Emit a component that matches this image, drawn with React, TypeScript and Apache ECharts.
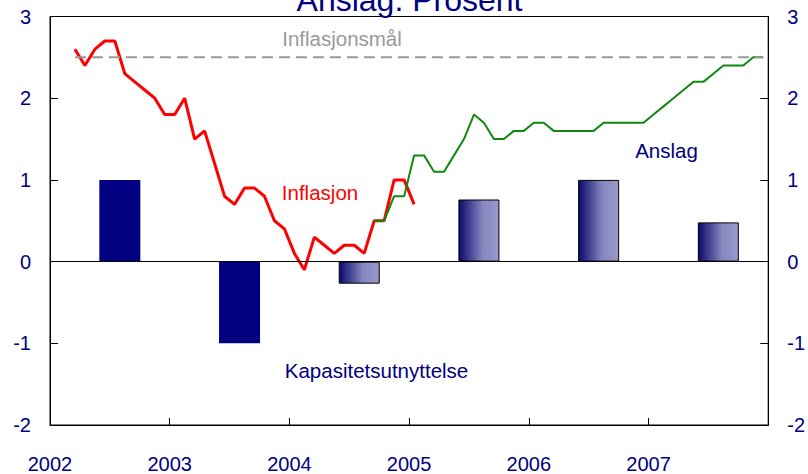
import React, { useEffect, useRef } from "react";
import * as echarts from "echarts";

// Tick labels
const yearTicks = [2002, 2003, 2004, 2005, 2006, 2007];

// Inflation (monthly, March 2002 – January 2005)
const inflationStart = { year: 2002, month: 2 }; // 0-based month (March)
const inflation = [
  2.6, 2.4, 2.6, 2.7, 2.7, 2.3, 2.2, 2.1, 2.0, 1.8,
  1.8, 2.0, 1.5, 1.6, 1.2, 0.8, 0.7, 0.9, 0.9, 0.8, 0.5, 0.4,
  0.1, -0.1, 0.3, 0.2, 0.1, 0.2, 0.2, 0.1, 0.5, 0.5, 1.0, 1.0,
  0.7,
];

// Forecast (monthly, September 2004 – December 2007)
const forecastStart = { year: 2004, month: 8 };
const forecast = [
  0.5, 0.5, 0.8, 0.8,
  1.3, 1.3, 1.1, 1.1, 1.3, 1.5, 1.8, 1.7, 1.5, 1.5, 1.6, 1.6,
  1.7, 1.7, 1.6, 1.6, 1.6, 1.6, 1.6, 1.7, 1.7, 1.7, 1.7, 1.7,
  1.8, 1.9, 2.0, 2.1, 2.2, 2.2, 2.3, 2.4, 2.4, 2.4, 2.5, 2.5,
];

// Capacity utilisation (annual)
const capacityYears = [2002, 2003, 2004, 2005, 2006, 2007];
const capacity = [1.0, -1.0, -0.27, 0.76, 1.0, 0.48];
const capacityForecastFrom = 2004;

// Inflation target
const targetValue = 2.5;
const targetFrom = 2002 + 2.5 / 12;
const targetTo = 2007 + 11.5 / 12;

const NAVY = "#000080";
const FONT = "'Liberation Sans', Arial, Helvetica, sans-serif";

function monthly(start: { year: number; month: number }, vals: number[]) {
  return vals.map((v, i) => [start.year + (start.month + i + 0.5) / 12, v]);
}

export default function App() {
  const ref = useRef<HTMLDivElement>(null);
  useEffect(() => {
    if (!ref.current) return;
    const chart = echarts.init(ref.current, null, { renderer: "svg" });
    const gradient = new echarts.graphic.LinearGradient(0, 0, 1, 0, [
      { offset: 0, color: "#0a0a6e" },
      { offset: 0.6, color: "#8787c0" },
      { offset: 1, color: "#9999cc" },
    ]);
    const barData = capacityYears.map((y, i) => ({
      value: [y + 7 / 12, capacity[i]],
      itemStyle:
        y >= capacityForecastFrom
          ? { color: gradient, borderColor: "#000", borderWidth: 1 }
          : { color: NAVY, borderWidth: 0 },
    }));
    const axisLabel = {
      color: NAVY,
      fontSize: 20,
      fontFamily: FONT,
    };
    const option: any = {
      animation: false,
      backgroundColor: "#fff",
      grid: {
        left: 50,
        right: 38,
        top: 16.5,
        bottom: 49,
        show: true,
        borderColor: "#000",
        borderWidth: 1,
        containLabel: false,
      },
      xAxis: {
        type: "value",
        min: 2002,
        max: 2008,
        interval: 1,
        axisLine: { show: true, onZero: false, lineStyle: { color: "#000", width: 1 } },
        axisTick: { show: true, inside: true, length: 7, lineStyle: { color: "#000" } },
        splitLine: { show: false },
        axisLabel: {
          ...axisLabel,
          margin: 29,
          formatter: (v: number) => (yearTicks.includes(v) ? String(v) : ""),
        },
      },
      yAxis: [
        {
          type: "value",
          min: -2,
          max: 3,
          interval: 1,
          position: "left",
          axisLine: { show: true, lineStyle: { color: "#000" } },
          axisTick: { show: true, inside: true, length: 8, lineStyle: { color: "#000" } },
          splitLine: { show: false },
          axisLabel: { ...axisLabel, margin: 19 },
        },
        {
          type: "value",
          min: -2,
          max: 3,
          interval: 1,
          position: "right",
          axisLine: { show: true, lineStyle: { color: "#000" } },
          axisTick: { show: true, inside: true, length: 8, lineStyle: { color: "#000" } },
          splitLine: { show: false },
          axisLabel: { ...axisLabel, margin: 19 },
        },
      ],
      series: [
        {
          type: "bar",
          name: "Kapasitetsutnyttelse",
          barWidth: 41,
          data: barData,
          markLine: {
            silent: true,
            symbol: "none",
            label: { show: false },
            lineStyle: { color: "#000", width: 1, type: "solid" },
            data: [{ yAxis: 0 }],
          },
          z: 2,
        },
        {
          type: "line",
          name: "Inflasjon",
          data: monthly(inflationStart, inflation),
          showSymbol: false,
          symbol: "none",
          lineStyle: { color: "#ff0000", width: 3 },
          z: 3,
        },
        {
          type: "line",
          name: "Anslag",
          data: monthly(forecastStart, forecast),
          showSymbol: false,
          symbol: "none",
          lineStyle: { color: "#118811", width: 2 },
          z: 4,
        },
        {
          type: "line",
          name: "Inflasjonsmål",
          data: [
            [targetFrom, targetValue],
            [targetTo, targetValue],
          ],
          showSymbol: false,
          symbol: "none",
          lineStyle: { color: "#999999", width: 2, type: [11, 6] },
          z: 5,
        },
      ],
      graphic: [
        {
          type: "text",
          x: 409.5,
          y: 0,
          style: {
            text: "Anslag. Prosent",
            fill: NAVY,
            font: `32px ${FONT}`,
            align: "center",
            verticalAlign: "middle",
          },
        },
        {
          type: "text",
          x: 342,
          y: 38.5,
          style: {
            text: "Inflasjonsmål",
            fill: "#999999",
            font: `20.5px ${FONT}`,
            align: "center",
            verticalAlign: "middle",
          },
        },
        {
          type: "text",
          x: 320,
          y: 192.5,
          style: {
            text: "Inflasjon",
            fill: "#ff0000",
            font: `20.5px ${FONT}`,
            align: "center",
            verticalAlign: "middle",
          },
        },
        {
          type: "text",
          x: 666.5,
          y: 150,
          style: {
            text: "Anslag",
            fill: NAVY,
            font: `20.5px ${FONT}`,
            align: "center",
            verticalAlign: "middle",
          },
        },
        {
          type: "text",
          x: 376.5,
          y: 370,
          style: {
            text: "Kapasitetsutnyttelse",
            fill: NAVY,
            font: `20.5px ${FONT}`,
            align: "center",
            verticalAlign: "middle",
          },
        },
      ],
    };
    chart.setOption(option);
    return () => chart.dispose();
  }, []);
  return <div ref={ref} style={{ width: 808, height: 474, position: "absolute", left: 0, top: 0 }} />;
}
